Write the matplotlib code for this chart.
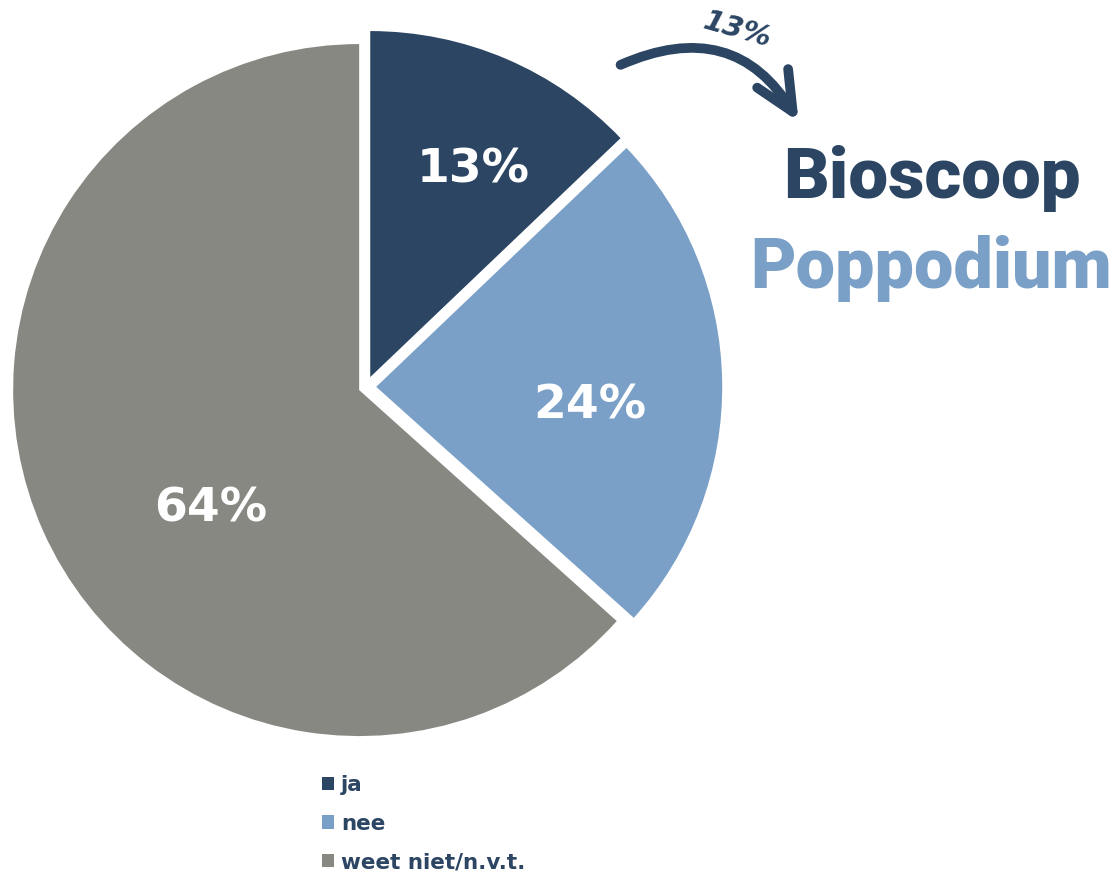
import numpy as np
import matplotlib
matplotlib.use('Agg')
import matplotlib.pyplot as plt
from matplotlib.patches import FancyArrowPatch

labels = ['ja', 'nee', 'weet niet/n.v.t.']
values = [13, 24, 64]
colors = ['#2B4563', '#7AA0C7', '#888883']
pct_text = ['13%', '24%', '64%']
arrow_pct = '13%'
title_top = 'Bioscoop'
title_bottom = 'Poppodium'

W, H = 1119, 873
fig = plt.figure(figsize=(W / 100, H / 100), dpi=100)
ax = fig.add_axes([0, 0, 1, 1])

wedges, _ = ax.pie(values, colors=colors, startangle=90, counterclock=False,
                   radius=346, center=(366, 486), explode=[10.8, 10.2, 7.5],
                   frame=True)
ax.set_xlim(0, W)
ax.set_ylim(0, H)
ax.set_aspect('equal')
ax.axis('off')

# percentage labels: radial distance and angle shift from each wedge's middle
dist = [0.673, 0.62, 0.546]
shift = [-3.0, -5.4, 14.0]
for w, t, d, s in zip(wedges, pct_text, dist, shift):
    ang = np.deg2rad((w.theta1 + w.theta2) / 2 + s)
    cx, cy = w.center
    ax.text(cx + d * w.r * np.cos(ang), cy + d * w.r * np.sin(ang) - 2, t,
            color='white', fontsize=34, fontweight='bold',
            ha='center', va='center')

# titles
ax.text(932, H - 178, title_top, color='#2B4563', fontsize=51,
        family='Roboto', fontweight=900, ha='center', va='center')
ax.text(931, H - 268, title_bottom, color='#7AA0C7', fontsize=50.5,
        family='Roboto', fontweight=900, ha='center', va='center')

# curved arrow
arr = FancyArrowPatch((618, H - 66), (800, H - 124),
                      connectionstyle='arc3,rad=-0.45',
                      arrowstyle='->,head_length=28,head_width=13',
                      color='#2B4563', lw=7, mutation_scale=1)
ax.add_patch(arr)
ax.text(737, H - 30, arrow_pct, color='#2B4563', fontsize=21,
        fontweight='bold', style='italic', rotation=-16,
        ha='center', va='center')

leg = ax.legend(wedges, labels, loc='upper left',
                bbox_to_anchor=(322 / W, 1 - 775 / H), frameon=False,
                handlelength=0.58, handleheight=0.58, handletextpad=0.3,
                labelspacing=0.86, borderpad=0, borderaxespad=0,
                prop={'weight': 'bold', 'size': 15.5})
for t in leg.get_texts():
    t.set_color('#2B4563')

fig.savefig('out.png', dpi=100, facecolor='white')
